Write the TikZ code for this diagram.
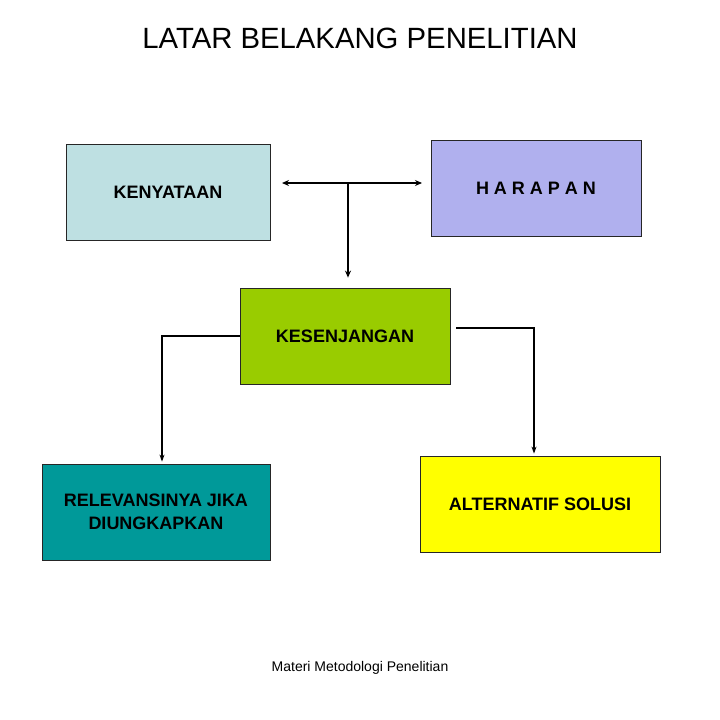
\documentclass[tikz,border=0pt]{standalone}
\usepackage{fontspec}
\setmainfont{Liberation Sans}
\usetikzlibrary{arrows.meta,positioning}

\definecolor{factBlue}{RGB}{190,224,226}
\definecolor{hopeViolet}{RGB}{176,176,238}
\definecolor{gapGreen}{RGB}{153,204,0}
\definecolor{relevTeal}{RGB}{0,153,153}
\definecolor{solYellow}{RGB}{255,255,0}

\begin{document}
\begin{tikzpicture}[
        x=1pt, y=-1pt,
        boxNode/.style={rectangle, draw=black!85, line width=0.8pt, inner sep=0pt,
            align=center, font=\fontsize{18}{22.5}\selectfont\bfseries},
        thickArrow/.style={line width=1.6pt, -{Stealth[length=7pt,width=6pt]}},
        thinArrow/.style={line width=1.1pt, -{Stealth[length=7pt,width=5pt]}}
    ]
        \useasboundingbox (0,0) rectangle (720,720);

        % Title
        \node (title) at (360,38) {\fontsize{29.3}{33}\selectfont LATAR BELAKANG PENELITIAN};

        % Boxes
        \node[boxNode, fill=factBlue, minimum width=204pt, minimum height=96pt] (kenyataan) at (168,192) {KENYATAAN};
        \node[boxNode, fill=hopeViolet, minimum width=210pt, minimum height=96pt] (harapan) at (536,188) {H A R A P A N};
        \node[boxNode, fill=gapGreen, minimum width=210pt, minimum height=96pt] (kesenjangan) at (345,336) {KESENJANGAN};
        \node[boxNode, fill=relevTeal, minimum width=228pt, minimum height=96pt] (relevansi) at (156,512) {RELEVANSINYA JIKA\\DIUNGKAPKAN};
        \node[boxNode, fill=solYellow, minimum width=240pt, minimum height=96pt] (alternatif) at (540,504) {ALTERNATIF SOLUSI};

        % Footer
        \node (footer) at (360,668) {\fontsize{14}{16}\selectfont Materi Metodologi Penelitian};

        % Arrow ends
        \coordinate (leftTip) at (282,183);
        \coordinate (rightTip) at (422,183);
        \coordinate (tJoin) at (348,183);

        % Edges
        \draw[thickArrow, {Stealth[length=7pt,width=6pt]}-{Stealth[length=7pt,width=6pt]}] (leftTip) -- (rightTip);
        \draw[thickArrow] (tJoin) -- ([yshift=10pt]kesenjangan.north -| tJoin);
        \draw[thinArrow] (kesenjangan.west) -| ([xshift=6pt,yshift=2pt]relevansi.north);
        \draw[thinArrow] ([xshift=6pt,yshift=8pt]kesenjangan.east) -| ([xshift=-6pt,yshift=2pt]alternatif.north);
    \end{tikzpicture}
\end{document}
